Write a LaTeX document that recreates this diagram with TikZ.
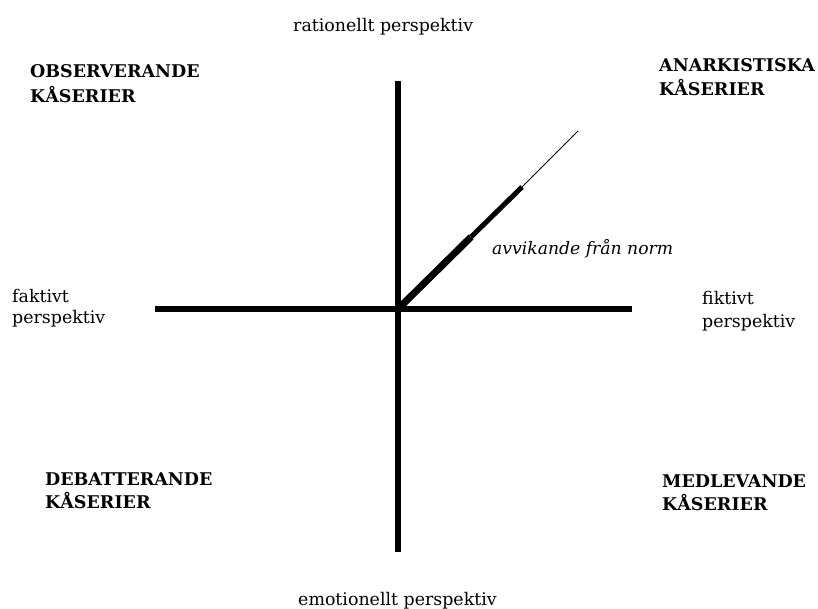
\documentclass[tikz,border=0pt]{standalone}
\usepackage{fontspec}
\setmainfont{DejaVu Serif}
\begin{document}
\begin{tikzpicture}[x=1pt,y=-1pt,
  axis/.style={line width=6pt},
  capt/.style={anchor=base west,inner sep=0pt,font=\fontsize{17.5}{20}\selectfont\bfseries},
  persp/.style={anchor=base west,inner sep=0pt,font=\fontsize{17.4}{20}\selectfont},
  note/.style={anchor=base west,inner sep=0pt,font=\fontsize{17.2}{20}\selectfont\itshape}]
\useasboundingbox (0,0) rectangle (818,609);
\fill[white] (0,0) rectangle (818,609);
% axes
\coordinate (top) at (398,81);
\coordinate (bot) at (398,552);
\coordinate (lft) at (155,309);
\coordinate (rgt) at (632,309);
\coordinate (o) at (398,309);
\coordinate (d1) at (471,237);
\coordinate (d2) at (522,187);
\coordinate (d3) at (578,131);
\draw[axis] (top) -- (bot);
\draw[axis] (lft) -- (rgt);
\draw[line width=7pt] (o) -- (d1);
\draw[line width=5pt] (d1) -- (d2);
\draw[line width=0.8pt] (d2) -- (d3);
% labels
\node[capt] (obs1) at (30,78) {OBSERVERANDE};
\node[capt] (obs2) at (30,103) {KÅSERIER};
\node[capt] (ana1) at (659,72) {ANARKISTISKA};
\node[capt] (ana2) at (659,96) {KÅSERIER};
\node[capt] (deb1) at (45,485) {DEBATTERANDE};
\node[capt] (deb2) at (45,508) {KÅSERIER};
\node[capt] (med1) at (662,487) {MEDLEVANDE};
\node[capt] (med2) at (662,510) {KÅSERIER};
\node[persp] (rat) at (293,32) {rationellt perspektiv};
\node[persp] (emo) at (298,605) {emotionellt perspektiv};
\node[persp] (fak1) at (12,302) {faktivt};
\node[persp] (fak2) at (12,323) {perspektiv};
\node[persp] (fik1) at (702,305) {fiktivt};
\node[persp] (fik2) at (702,327) {perspektiv};
\node[note] (avv) at (492,255) {avvikande från norm};
\end{tikzpicture}
\end{document}
